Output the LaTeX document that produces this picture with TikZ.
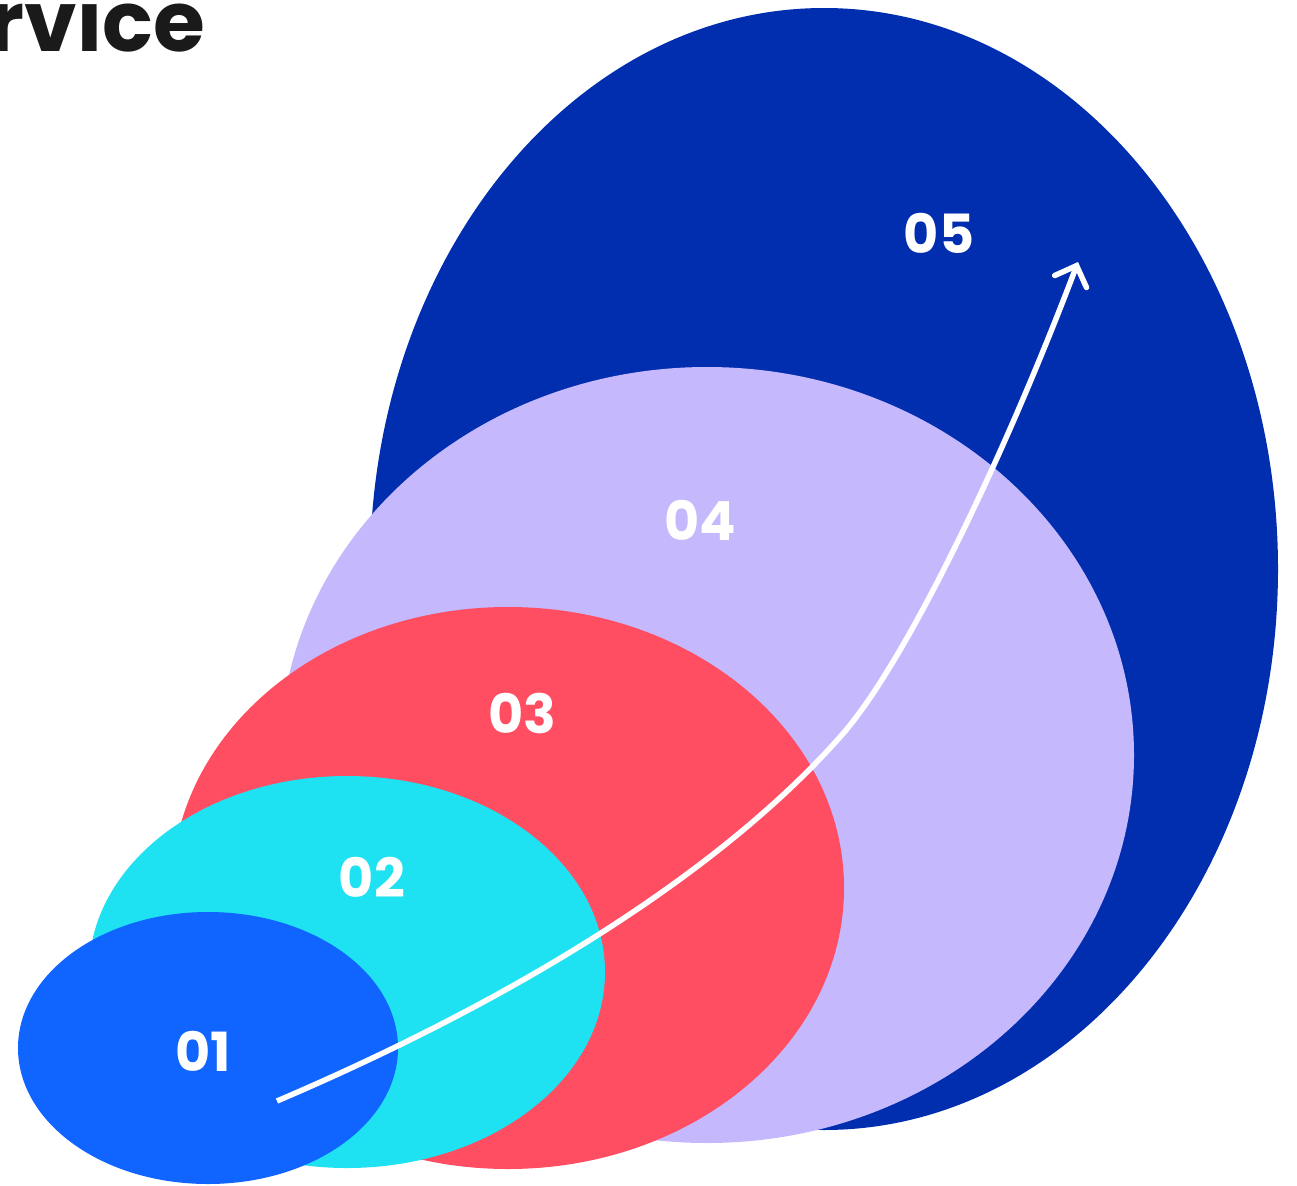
\documentclass[tikz,border=0pt]{standalone}
\usepackage{fontspec}
\setmainfont{Poppins}
\usepackage{xcolor}
\usepackage{tikz}
\usetikzlibrary{arrows.meta, shapes.geometric}

\definecolor{navy}{HTML}{002EAF}
\definecolor{lilac}{HTML}{C5B8FD}
\definecolor{coral}{HTML}{FF4D62}
\definecolor{aqua}{HTML}{1EE1F2}
\definecolor{azure}{HTML}{1064FF}
\definecolor{ink}{HTML}{1A1A1A}

\begin{document}
\begin{tikzpicture}[x=1pt,y=-1pt,>={Straight Barb[length=17pt,width=34pt,line cap=round]},thin]

                \tikzset{blob/.style={ellipse, inner sep=0pt, draw=none},
                         num/.style={text=white, font=\bfseries\fontsize{54}{54}\selectfont}}

                \clip (0,0) rectangle (1297,1185);

                \node[blob, fill=navy, minimum width=908pt, minimum height=1122pt] (E5) at (824,569) {};
                \node[blob, fill=lilac, minimum width=854pt, minimum height=776pt] (E4) at (707,755) {};
                \node[blob, fill=coral, minimum width=672pt, minimum height=562pt] (E3) at (508,888) {};
                \node[blob, fill=aqua, minimum width=516pt, minimum height=392pt] (E2) at (347,972) {};
                \node[blob, fill=azure, minimum width=380pt, minimum height=272pt] (E1) at (208,1048) {};

                \node[num] (N5) at (939,233) {05};
                \node[num] (N4) at (700,520) {04};
                \node[num] (N3) at (522,713) {03};
                \node[num] (N2) at (372,877) {02};
                \node[num] (N1) at (203,1051) {01};

                \node[anchor=base east, inner sep=0pt, text=ink, font=\bfseries\fontsize{84}{84}\selectfont] (title) at (205,52) {Service};

                \coordinate (start) at (277,1101);
                \coordinate (bend) at (840,737);
                \coordinate (tip) at (1078,262);

                \draw[->, white, line width=5.5pt] (start) .. controls (560,980) and (740,850) .. (bend)
                      .. controls (905,665) and (1005,455) .. (tip);
            \end{tikzpicture}
\end{document}
